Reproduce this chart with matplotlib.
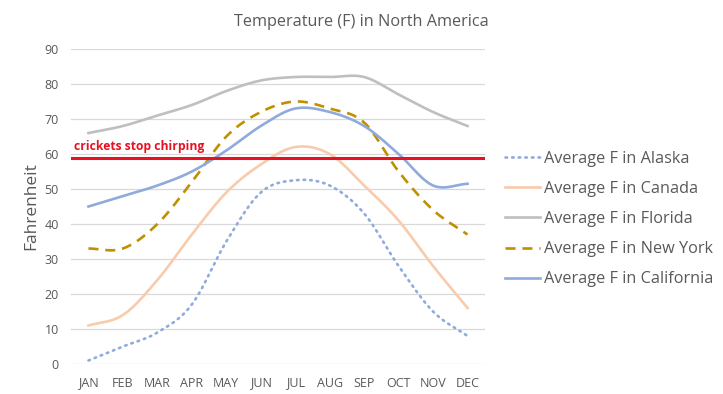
import numpy as np
import matplotlib.pyplot as plt

months = ['JAN', 'FEB', 'MAR', 'APR', 'MAY', 'JUN', 'JUL', 'AUG', 'SEP', 'OCT', 'NOV', 'DEC']
alaska = [1, 5, 9, 17, 35, 49, 52.5, 51, 43, 28, 15, 8]
canada = [11, 14, 24, 37, 49, 57, 62, 60, 51, 41, 28, 16]
florida = [66, 68, 71, 74, 78, 81, 82, 82, 82, 77, 72, 68]
new_york = [33, 33, 40, 52, 65, 72, 75, 73, 69, 55, 44, 37]
california = [45, 48, 51, 55, 61, 68, 73, 72, 68, 60, 51, 51.5]
threshold = 59


def smooth(y, n=20):
    # catmull-rom curve through the points, like excel's smoothed lines
    y = np.asarray(y, dtype=float)
    p = np.concatenate([[2 * y[0] - y[1]], y, [2 * y[-1] - y[-2]]])
    xs, ys = [], []
    for i in range(len(y) - 1):
        t = np.linspace(0, 1, n, endpoint=False)
        p0, p1, p2, p3 = p[i], p[i + 1], p[i + 2], p[i + 3]
        seg = 0.5 * (2 * p1 + (-p0 + p2) * t + (2 * p0 - 5 * p1 + 4 * p2 - p3) * t ** 2
                     + (-p0 + 3 * p1 - 3 * p2 + p3) * t ** 3)
        xs.append(i + t)
        ys.append(seg)
    xs.append([len(y) - 1])
    ys.append([y[-1]])
    return np.concatenate(xs), np.concatenate(ys)


plt.rcParams['font.family'] = ['Open Sans', 'DejaVu Sans']
gray = '#595959'
lw = 1.9

fig = plt.figure(figsize=(7.23, 3.94), dpi=100)
ax = fig.add_axes([0.0985, 0.0761, 0.572, 0.7995])

x, y = smooth(alaska)
ax.plot(x, y, color='#8FAADC', lw=lw, ls=(0, (0.6, 1.9)), dash_capstyle='round', label='Average F in Alaska')
x, y = smooth(canada)
ax.plot(x, y, color='#F8CBAD', lw=lw, label='Average F in Canada')
x, y = smooth(florida)
ax.plot(x, y, color='#BFBFBF', lw=lw, label='Average F in Florida')
x, y = smooth(new_york)
ax.plot(x, y, color='#BF9000', lw=lw, ls=(0, (3.8, 2.6)), label='Average F in New York')
x, y = smooth(california)
ax.plot(x, y, color='#8FAADC', lw=lw, label='Average F in California')

ax.axhline(threshold, color='#E81123', lw=2.2)
ax.text(-0.42, threshold + 1.2, 'crickets stop chirping', color='#E81123', fontsize=8.7,
        fontweight='bold', va='bottom', ha='left')

ax.set_xlim(-0.5, 11.5)
ax.set_ylim(0, 90)
ax.set_xticks(range(len(months)))
ax.set_xticklabels(months, fontsize=9)
ax.set_yticks(range(0, 91, 10))
ax.tick_params(length=0, colors=gray, labelsize=9, pad=9)
ax.grid(axis='y', color='#D9D9D9', lw=0.9)
ax.set_axisbelow(True)
for s in ax.spines.values():
    s.set_visible(False)

ax.set_ylabel('Fahrenheit', color=gray, fontsize=12.5, labelpad=4)
fig.text(0.5, 0.945, 'Temperature (F) in North America', color=gray, fontsize=11.7, ha='center', va='center')

ax.legend(loc='center left', bbox_to_anchor=(1.033, 0.46), borderaxespad=0, frameon=False, fontsize=11.7,
          labelcolor=gray, handlelength=2.15, handletextpad=0.25, labelspacing=0.87)

fig.savefig('out.png', dpi=100)
